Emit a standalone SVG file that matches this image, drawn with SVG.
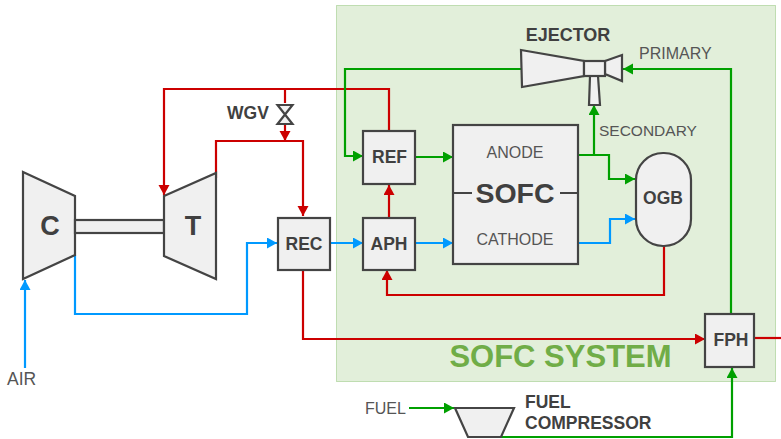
<svg xmlns="http://www.w3.org/2000/svg" width="781" height="439" viewBox="0 0 781 439">
<defs>
<marker id="ar" markerUnits="userSpaceOnUse" markerWidth="12" markerHeight="12" refX="10" refY="5.500" orient="auto"><path d="M0 0L10 5.500L0 11Z" fill="#cc0000"/></marker>
<marker id="ag" markerUnits="userSpaceOnUse" markerWidth="12" markerHeight="12" refX="10" refY="5.500" orient="auto"><path d="M0 0L10 5.500L0 11Z" fill="#00a000"/></marker>
<marker id="ab" markerUnits="userSpaceOnUse" markerWidth="12" markerHeight="12" refX="10" refY="5.500" orient="auto"><path d="M0 0L10 5.500L0 11Z" fill="#0099ff"/></marker>
</defs>
<style>
.s{fill:#f0f0f0;stroke:#444;stroke-width:2.2}
.t{font-family:"Liberation Sans",Arial,sans-serif;font-weight:bold;fill:#404040;text-anchor:middle}
.l{font-family:"Liberation Sans",Arial,sans-serif;fill:#555;font-size:16px}
.r,.g,.b{fill:none;stroke-width:2.2}
.r{stroke:#cc0000}.g{stroke:#00a000}.b{stroke:#0099ff}
</style>
<rect id="system" x="336.500" y="5.500" width="439" height="376" fill="#e2efda" stroke="#8fc276" stroke-dasharray="1 1"/>
<text x="560.500" y="367" font-family="'Liberation Sans',Arial,sans-serif" font-weight="bold" font-size="31" fill="#70ad47" text-anchor="middle">SOFC SYSTEM</text>
<g id="connectors">
<path class="r" d="M389 131V89H164V195" marker-end="url(#ar)"/>
<path class="r" d="M285 89V103"/>
<path class="r" d="M285 124V141" marker-end="url(#ar)"/>
<path class="r" d="M216 178V141H303V216" marker-end="url(#ar)"/>
<path class="r" d="M389 217V185" marker-end="url(#ar)"/>
<path class="r" d="M664 246V295H387V270" marker-end="url(#ar)"/>
<path class="r" d="M303 270V339H705" marker-end="url(#ar)"/>
<path class="r" d="M754 338H781"/>
<path class="g" d="M521 69H345V156H363" marker-end="url(#ag)"/>
<path class="g" d="M415 157H453" marker-end="url(#ag)"/>
<path class="g" d="M578 155H609V179H635" marker-end="url(#ag)"/>
<path class="g" d="M594 155V105" marker-end="url(#ag)"/>
<path class="g" d="M731 314V69H623" marker-end="url(#ag)"/>
<path class="g" d="M409 408H454" marker-end="url(#ag)"/>
<path class="g" d="M500 437H732V368" marker-end="url(#ag)"/>
<path class="b" d="M25 368V280" marker-end="url(#ab)"/>
<path class="b" d="M75 255V314H247V243H277" marker-end="url(#ab)"/>
<path class="b" d="M330 243H363" marker-end="url(#ab)"/>
<path class="b" d="M415 243H453" marker-end="url(#ab)"/>
<path class="b" d="M578 243H610V219H635" marker-end="url(#ab)"/>
</g>
<g id="compressor"><path class="s" d="M23 172L75 196V255L23 279Z"/><text class="t" x="50" y="235" font-size="27">C</text></g>
<g id="shaft"><rect class="s" x="75" y="220" width="89" height="13"/></g>
<g id="turbine"><path class="s" d="M164 196L216 173V279L164 256Z"/><text class="t" x="193" y="235" font-size="27">T</text></g>
<g id="wgv"><path class="s" d="M277.500 105H292.500L277.500 124H292.500Z"/><text class="t" x="248" y="119" font-size="17.500">WGV</text></g>
<g id="ref"><rect class="s" x="363" y="131" width="52" height="53"/><text class="t" x="389.500" y="163" font-size="17.500">REF</text></g>
<g id="aph"><rect class="s" x="363" y="218" width="52" height="52"/><text class="t" x="389" y="250" font-size="17.500">APH</text></g>
<g id="rec"><rect class="s" x="278" y="218" width="52" height="52"/><text class="t" x="304" y="250" font-size="17.500">REC</text></g>
<g id="sofc"><rect class="s" x="453" y="125" width="125" height="139"/>
<path d="M453 193H472M560 193H578" fill="none" stroke="#444" stroke-width="2"/>
<text class="t" x="515" y="203" font-size="28.500">SOFC</text>
<text class="l" x="515" y="158" text-anchor="middle">ANODE</text>
<text class="l" x="515" y="244.500" text-anchor="middle">CATHODE</text></g>
<g id="ogb"><rect class="s" x="636" y="153" width="55" height="93" rx="27" ry="27"/><text class="t" x="663" y="204" font-size="17.500">OGB</text></g>
<g id="ejector">
<path class="s" d="M521 50L584 61V76L522 87Z"/>
<path class="s" d="M605 61L622 55V81L605 74Z"/>
<path class="s" d="M590 76H598L600 105H589Z"/>
<rect class="s" x="584" y="61" width="21" height="15"/>
<text class="t" x="568" y="41" font-size="18">EJECTOR</text>
</g>
<g id="fph"><rect class="s" x="705" y="314" width="49" height="53"/><text class="t" x="731" y="346" font-size="17.500">FPH</text></g>
<g id="fuelcomp"><path class="s" d="M455 408H514L501 437H468Z"/>
<text class="t" x="525" y="408" font-size="17.500" style="text-anchor:start">FUEL</text>
<text class="t" x="525" y="429" font-size="17.500" style="text-anchor:start">COMPRESSOR</text></g>
<text class="l" x="639" y="59">PRIMARY</text>
<text class="l" x="599" y="136" style="font-size:15.500px">SECONDARY</text>
<text class="l" x="7" y="385" style="font-size:17.500px">AIR</text>
<text class="l" x="365" y="413.500">FUEL</text>
</svg>
